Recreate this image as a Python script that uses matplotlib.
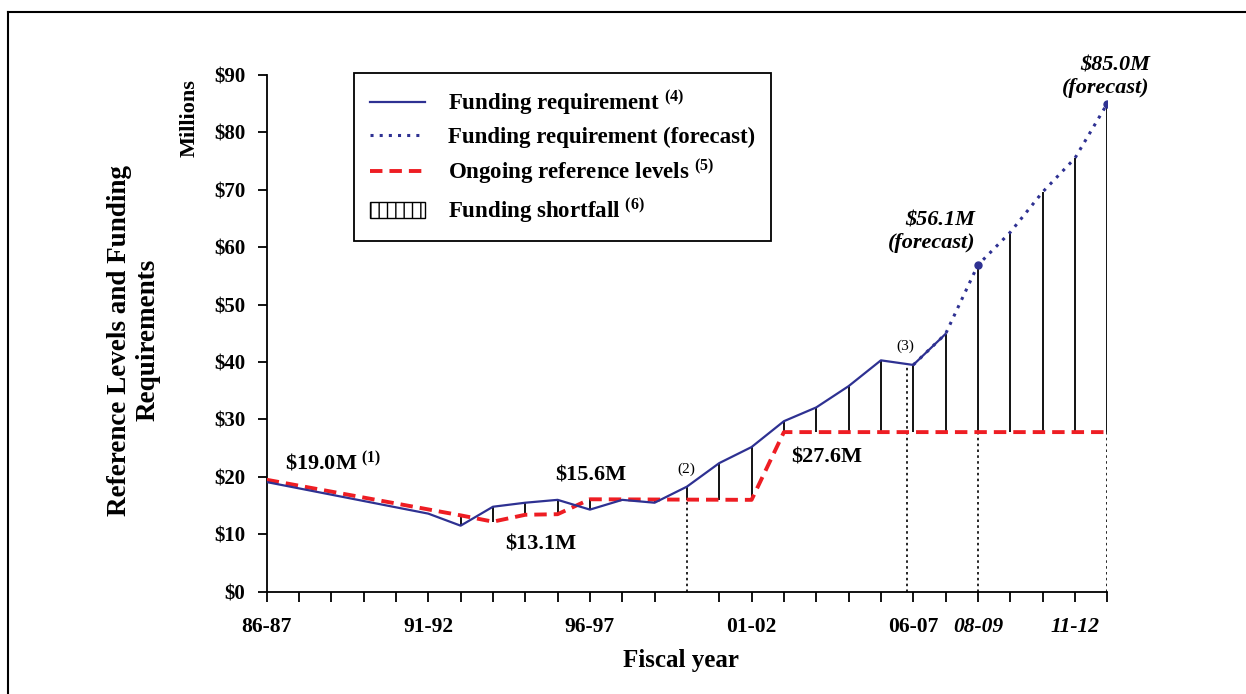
#Reference levels and funding requirements, 86-87 to 11-12 (values in $ millions)

import numpy as np
import matplotlib
matplotlib.use('Agg')
import matplotlib.pyplot as plt
from matplotlib.lines import Line2D
from matplotlib.patches import Patch

plt.rcParams['font.family'] = ['Liberation Serif', 'DejaVu Serif']
plt.rcParams['font.weight'] = 'bold'
plt.rcParams['mathtext.fontset'] = 'custom'
plt.rcParams['mathtext.rm'] = 'Liberation Serif:bold'
plt.rcParams['mathtext.it'] = 'Liberation Serif:italic:bold'
plt.rcParams['mathtext.bf'] = 'Liberation Serif:bold'
plt.rcParams['hatch.linewidth'] = 1.0

# the fiscal years along the x axis
fiscal_years = ['86-87', '87-88', '88-89', '89-90', '90-91', '91-92', '92-93', '93-94', '94-95',
                '95-96', '96-97', '97-98', '98-99', '99-00', '00-01', '01-02', '02-03', '03-04',
                '04-05', '05-06', '06-07', '07-08', '08-09', '09-10', '10-11', '11-12', '12-13']
shown_labels = ['86-87', '91-92', '96-97', '01-02', '06-07', '08-09', '11-12']
italic_labels = ['08-09', '11-12']

# funding requirement (actual)
req_years = ['86-87', '91-92', '92-93', '93-94', '94-95', '95-96', '96-97', '97-98', '98-99',
             '99-00', '00-01', '01-02', '02-03', '03-04', '04-05', '05-06', '06-07', '07-08']
req_values = [19.1, 13.6, 11.5, 14.8, 15.5, 16.0, 14.3, 16.0, 15.5,
              18.3, 22.4, 25.2, 29.7, 32.1, 35.8, 40.3, 39.5, 44.9]

# funding requirement (forecast)
fc_years = ['06-07', '07-08', '08-09', '09-10', '10-11', '11-12', '12-13']
fc_values = [39.5, 44.9, 56.9, 62.6, 69.6, 75.5, 85.0]
fc_marked = ['08-09', '12-13']

# ongoing reference levels
ref_years = ['86-87', '92-93', '93-94', '94-95', '95-96', '96-97', '01-02', '02-03', '12-13']
ref_values = [19.5, 13.3, 12.2, 13.4, 13.5, 16.1, 16.0, 27.8, 27.8]

# dotted guide lines for the notes (2), (3) and the forecast points
note_pos = [13, 19.8, 22, 26]
note_tops = [16.0, 39.6, 27.8, 27.8]

blue = '#2E3192'
red = '#EE1D23'

def idx(names):
    return np.array([fiscal_years.index(n) for n in names], dtype=float)

req_x = idx(req_years)
fc_x = idx(fc_years)
ref_x = idx(ref_years)

# shortfall = gap between requirement and reference level, one stroke per year
short_x = np.arange(fiscal_years.index('92-93'), len(fiscal_years))
all_x = np.concatenate([req_x, fc_x[2:]])
all_v = np.concatenate([req_values, fc_values[2:]])
short_top = np.interp(short_x, all_x, all_v)
short_low = np.interp(short_x, ref_x, ref_values)

fig = plt.figure(figsize=(12.46, 6.94), dpi=100)
ax = fig.add_axes([0.2140, 0.1474, 0.6746, 0.7445])

ax.vlines(short_x, short_low, short_top, colors='black', lw=1.3, zorder=2)
ax.vlines(note_pos, 0, note_tops, colors='black', lw=1.2, linestyles=(0, (1.5, 2)), zorder=2)
ax.plot(ref_x, ref_values, color=red, lw=2.8, dashes=(3.2, 1.8), zorder=3)
ax.plot(req_x, req_values, color=blue, lw=1.6, zorder=4)
ax.plot(fc_x, fc_values, color=blue, lw=2.2, linestyle=(0, (1, 2)), zorder=4)
mk = [fc_years.index(n) for n in fc_marked]
ax.plot(fc_x[mk], np.array(fc_values)[mk], 'o', color=blue, ms=5, zorder=5)

# axes
ax.set_xlim(0, 26)
ax.set_ylim(0, 90)
for s in ['top', 'right']:
    ax.spines[s].set_visible(False)
for s in ['left', 'bottom']:
    ax.spines[s].set_linewidth(1.3)

yt = np.arange(0, 91, 10)
ax.set_yticks(yt)
ax.set_yticklabels(['$%d' % v for v in yt])
xt = [i for i in range(len(fiscal_years)) if i != 13]
ax.set_xticks(xt)
ax.set_xticklabels([fiscal_years[i] if fiscal_years[i] in shown_labels else '' for i in xt])
for lab in ax.get_xticklabels():
    if lab.get_text() in italic_labels:
        lab.set_fontstyle('italic')
ax.tick_params(axis='y', direction='out', length=6.5, width=1.3, pad=9, labelsize=15)
ax.tick_params(axis='x', direction='out', length=7, width=1.3, pad=11, labelsize=15.5)

# axis titles
fig.text(134 / 1246, 1 - 340 / 694, 'Reference Levels and Funding\nRequirements',
         rotation=90, ha='center', va='center', multialignment='center', fontsize=19.5,
         linespacing=1.2)
fig.text(190 / 1246, 1 - 118 / 694, 'Millions', rotation=90, ha='center', va='center', fontsize=16)
fig.text(681 / 1246, 1 - 661 / 694, 'Fiscal year', ha='center', va='center', fontsize=18)

# value labels and notes
ax.text(0.57, 22.4, r'\$19.0M $^{(1)}$', ha='left', va='center', fontsize=16)
ax.text(10.03, 20.2, '$15.6M', ha='center', va='center', fontsize=16)
ax.text(8.48, 8.3, '$13.1M', ha='center', va='center', fontsize=16)
ax.text(17.33, 23.3, '$27.6M', ha='center', va='center', fontsize=16)
ax.text(12.97, 21.4, '(2)', ha='center', va='center', fontsize=11, fontweight='normal')
ax.text(19.74, 42.8, '(3)', ha='center', va='center', fontsize=11, fontweight='normal')
ax.text(21.91, 62.7, '$56.1M\n(forecast)', ha='right', va='center', multialignment='right',
        fontsize=16, fontstyle='italic')
ax.text(27.32, 89.7, '$85.0M\n(forecast)', ha='right', va='center', multialignment='right',
        fontsize=16, fontstyle='italic')

# legend
handles = [Line2D([], [], color=blue, lw=1.6),
           Line2D([], [], color=blue, lw=2.2, linestyle=(0, (1, 2))),
           Line2D([], [], color=red, lw=2.8, dashes=(3.2, 1.8)),
           Patch(facecolor='white', edgecolor='black', hatch='||', lw=1)]
labels = [r'Funding requirement $^{(4)}$',
          'Funding requirement (forecast)',
          r'Ongoing reference levels $^{(5)}$',
          r'Funding shortfall $^{(6)}$']
leg = ax.legend(handles, labels, loc='upper left', bbox_to_anchor=(354 / 1246, 1 - 72.7 / 694),
                bbox_transform=fig.transFigure, fancybox=False, edgecolor='black', framealpha=1,
                fontsize=16.5, handlelength=2.4, handletextpad=1.0, labelspacing=0.42,
                borderpad=0.7, borderaxespad=0)
leg.get_frame().set_linewidth(1.3)

# outer frame (top and left edges)
fig.add_artist(Line2D([8.3 / 1246, 1], [1 - 11.7 / 694] * 2, transform=fig.transFigure,
                      color='black', lw=1.5))
fig.add_artist(Line2D([8.3 / 1246] * 2, [0, 1 - 11.7 / 694], transform=fig.transFigure,
                      color='black', lw=1.5))

fig.savefig('out.png', dpi=100)
